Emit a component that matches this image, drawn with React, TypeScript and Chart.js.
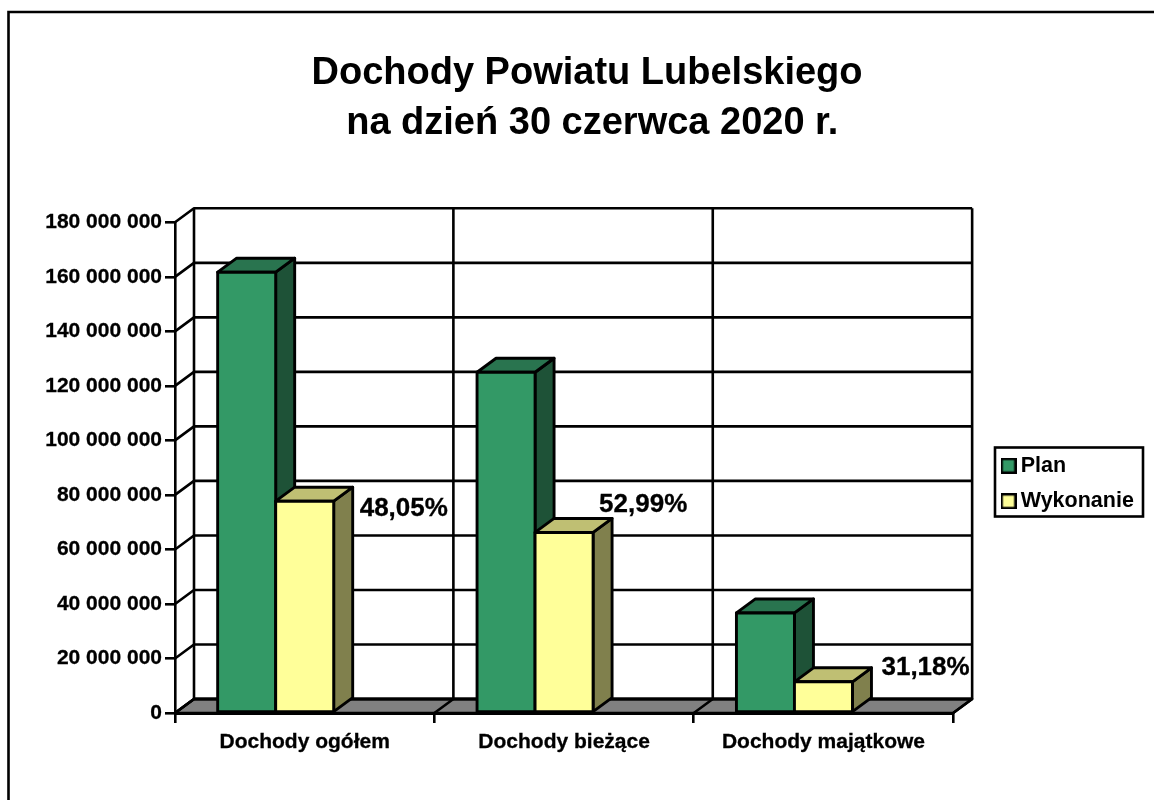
import React, { useEffect, useRef } from "react";
import { Chart, registerables } from "chart.js";

Chart.register(...registerables);

const categories = ["Dochody ogółem", "Dochody bieżące", "Dochody majątkowe"];
const planValues = [161700000, 125000000, 36700000];
const wykonanieValues = [77700000, 66240000, 11440000];
const percentSlotValues = [0, 0, 0];
const percentLabels = ["48,05%", "52,99%", "31,18%"];
const titleLines = ["Dochody Powiatu Lubelskiego", " na dzień 30 czerwca 2020 r."];
const seriesNames = ["Plan", "Wykonanie"];

const FONT = "'Liberation Sans', Arial, sans-serif";
const DX = 19;
const DY = -14;
const LINE = 2.6;
const LABEL_OFFSETS = [[26, 8], [6, -28], [29, -14]];
const FACES = [
  { front: "#339966", top: "#29744F", side: "#1E5237" },
  { front: "#FFFF99", top: "#BFBF73", side: "#80804D" },
];

function swatch(color: string) {
  const c = document.createElement("canvas");
  c.width = 16;
  c.height = 16;
  const x = c.getContext("2d")!;
  x.fillStyle = color;
  x.fillRect(1, 1, 14, 14);
  x.strokeStyle = "#000";
  x.lineWidth = 2.4;
  x.strokeRect(1.2, 1.2, 13.6, 13.6);
  return c;
}

function poly(ctx: CanvasRenderingContext2D, pts: number[][], fill?: string) {
  ctx.beginPath();
  pts.forEach((p, i) => (i ? ctx.lineTo(p[0], p[1]) : ctx.moveTo(p[0], p[1])));
  ctx.closePath();
  if (fill) {
    ctx.fillStyle = fill;
    ctx.fill();
  }
  ctx.stroke();
}

const threeD = {
  id: "threeD",
  afterLayout(chart: any) {
    const t = chart.titleBlock;
    t.left = 20;
    t.right = 1154;
    const l = chart.legend;
    const w = l.width;
    const h = l.height;
    l.left = 993;
    l.right = 993 + w;
    l.top = 441;
    l.bottom = 441 + h;
  },
  beforeDatasetsDraw(chart: any) {
    const { ctx, chartArea: a, scales } = chart;
    const { y: ys } = scales;
    ctx.save();
    ctx.strokeStyle = "#000";
    ctx.lineWidth = LINE;
    ctx.lineJoin = "round";
    // floor
    poly(
      ctx,
      [
        [a.left, a.bottom],
        [a.left + DX, a.bottom + DY],
        [a.right + DX, a.bottom + DY],
        [a.right, a.bottom],
      ],
      "#808080"
    );
    // back wall horizontals and left wall diagonals
    ys.ticks.forEach((t: any) => {
      const y = ys.getPixelForValue(t.value);
      ctx.beginPath();
      ctx.moveTo(a.left, y);
      ctx.lineTo(a.left + DX, y + DY);
      ctx.lineTo(a.right + DX, y + DY);
      ctx.stroke();
    });
    ctx.lineWidth = 3;
    ctx.beginPath();
    ctx.moveTo(a.left + DX, a.bottom + DY);
    ctx.lineTo(a.right + DX, a.bottom + DY);
    ctx.stroke();
    ctx.lineWidth = LINE;
    // vertical lines on the wall and floor diagonals
    const n = categories.length;
    for (let i = 0; i <= n; i++) {
      const x = a.left + ((a.right - a.left) * i) / n;
      ctx.beginPath();
      ctx.moveTo(x + DX, a.top + DY);
      ctx.lineTo(x + DX, a.bottom + DY);
      ctx.lineTo(x, a.bottom);
      ctx.stroke();
    }
    ctx.restore();
  },
  afterDatasetsDraw(chart: any) {
    const { ctx } = chart;
    ctx.save();
    ctx.strokeStyle = "#000";
    ctx.lineWidth = LINE + 0.3;
    ctx.lineJoin = "round";
    // Plan first, so that the Wykonanie bars sit in front of its side faces
    [0, 1].forEach((index) => {
      const face = FACES[index];
      chart.getDatasetMeta(index).data.forEach((bar: any) => {
        const { x, y, base, width } = bar.getProps(["x", "y", "base", "width"], true);
        const l = x - width / 2;
        const r = x + width / 2;
        poly(ctx, [[r, y], [r + DX, y + DY], [r + DX, base + DY], [r, base]], face.side);
        poly(ctx, [[l, y], [l + DX, y + DY], [r + DX, y + DY], [r, y]], face.top);
        poly(ctx, [[l, y], [r, y], [r, base], [l, base]], face.front);
      });
    });
    ctx.restore();
  },
  afterDraw(chart: any) {
    const { ctx } = chart;
    ctx.save();
    ctx.strokeStyle = "#000";
    // outer frame, open on the right and at the bottom
    ctx.lineWidth = 2.6;
    ctx.beginPath();
    ctx.moveTo(8.5, 800);
    ctx.lineTo(8.5, 12);
    ctx.lineTo(1154, 12);
    ctx.stroke();
    // legend frame
    ctx.strokeRect(995, 447.5, 148, 69);
    // percentage labels beside the Wykonanie bars
    ctx.fillStyle = "#000";
    ctx.font = `bold 26px ${FONT}`;
    ctx.textAlign = "left";
    ctx.textBaseline = "middle";
    ctx.lineWidth = 0.3;
    chart.getDatasetMeta(1).data.forEach((bar: any, i: number) => {
      const { x, y, width } = bar.getProps(["x", "y", "width"], true);
      const tx = x + width / 2 + LABEL_OFFSETS[i][0];
      const ty = y + LABEL_OFFSETS[i][1];
      ctx.fillText(percentLabels[i], tx, ty);
      ctx.strokeText(percentLabels[i], tx, ty);
    });
    ctx.restore();
  },
};

export default function App() {
  const ref = useRef<HTMLCanvasElement>(null);
  useEffect(() => {
    document.body.style.margin = "0";
    const swatches = [swatch(FACES[0].front), swatch(FACES[1].front)];
    const chart = new Chart(ref.current!, {
      type: "bar",
      plugins: [threeD as any],
      data: {
        labels: categories,
        datasets: [
          { label: seriesNames[0], data: planValues, backgroundColor: FACES[0].front, borderWidth: 0 },
          { label: seriesNames[1], data: wykonanieValues, backgroundColor: FACES[1].front, borderWidth: 0 },
          { label: "", data: percentSlotValues, backgroundColor: "transparent", borderWidth: 0 },
        ],
      },
      options: {
        responsive: false,
        animation: false,
        events: [],
        datasets: { bar: { categoryPercentage: 0.671, barPercentage: 1 } },
        layout: { padding: { left: 0, right: 50, top: 0, bottom: 0 } },
        scales: {
          x: {
            offset: true,
            grid: {
              offset: true,
              drawOnChartArea: false,
              drawTicks: true,
              tickLength: 10,
              color: "#000",
              lineWidth: 2.6,
            },
            border: { display: true, color: "#000", width: 3 },
            ticks: {
              color: "#000",
              padding: 7,
              maxRotation: 0,
              autoSkip: false,
              textStrokeColor: "#000",
              textStrokeWidth: 0.3,
              font: { family: FONT, size: 21, weight: "bold" },
            },
            afterFit(s: any) {
              s.height = 87;
            },
          },
          y: {
            min: 0,
            max: 180000000,
            grid: {
              drawOnChartArea: false,
              drawTicks: true,
              tickLength: 10,
              color: "#000",
              lineWidth: 2.6,
            },
            border: { display: true, color: "#000", width: 2.6 },
            ticks: {
              stepSize: 20000000,
              color: "#000",
              padding: 3,
              autoSkip: false,
              textStrokeColor: "#000",
              textStrokeWidth: 0.3,
              font: { family: FONT, size: 21, weight: "bold" },
              callback: (v: any) => String(v).replace(/\B(?=(\d{3})+$)/g, " "),
            },
            afterFit(s: any) {
              s.width = 175;
            },
          },
        },
        plugins: {
          tooltip: { enabled: false },
          title: {
            display: true,
            text: titleLines,
            color: "#000",
            font: { family: FONT, size: 38, weight: "bold", lineHeight: 1.32 },
            padding: { top: 48, bottom: 74 },
          },
          legend: {
            display: true,
            position: "right",
            align: "start",
            labels: {
              usePointStyle: true,
              pointStyleWidth: 3,
              padding: 14,
              color: "#000",
              font: { family: FONT, size: 21.5, weight: "bold" },
              generateLabels: () =>
                seriesNames.map((name, i) => ({
                  text: name,
                  pointStyle: swatches[i],
                  fillStyle: FACES[i].front,
                  strokeStyle: "#000",
                  lineWidth: 2,
                  datasetIndex: i,
                })),
            },
          },
        },
      },
    } as any);
    return () => chart.destroy();
  }, []);
  return <canvas ref={ref} width={1154} height={800} style={{ display: "block", background: "#fff" }} />;
}
